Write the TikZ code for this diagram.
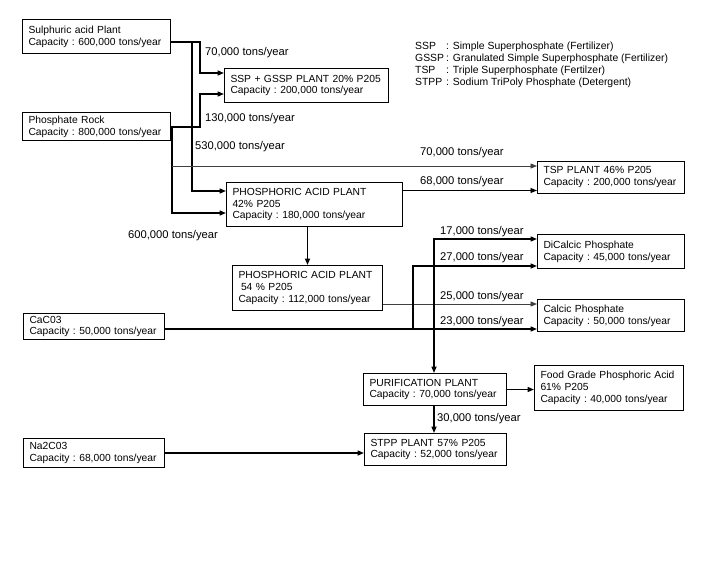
\documentclass[tikz,border=0pt]{standalone}
\usepackage{fontspec}
\setmainfont{Liberation Sans}
\usetikzlibrary{arrows.meta}
\begin{document}
\frenchspacing
\begin{tikzpicture}[x=1pt,y=-1pt,
  plant/.style={draw, line width=1pt, anchor=north west, align=left,
    inner xsep=6pt, inner ysep=0pt, font=\fontsize{10.3}{11.7}\selectfont\frenchspacing},
  lab/.style={anchor=west, inner sep=0pt, font=\fontsize{11.2}{13}\selectfont},
  flow/.style={line width=1.5pt, line join=miter, -{Triangle[length=6.5pt,width=5pt]}},
  thinflow/.style={line width=0.9pt, draw=black!75, -{Triangle[length=6.5pt,width=5pt]}},
  pipe/.style={line width=1.5pt}]
\useasboundingbox (0,0) rectangle (710,570);
\fill[white] (0,0) rectangle (710,570);

% boxes
\node[plant, text width=136pt, minimum height=34pt] (sulph) at (22,19)
  {Sulphuric acid Plant\\Capacity : 600,000 tons/year};
\node[plant, text width=152pt, minimum height=34pt] (ssp) at (224,68)
  {SSP + GSSP PLANT 20\% P205\\Capacity : 200,000 tons/year};
\node[plant, text width=136pt, minimum height=28pt] (rock) at (22,112)
  {Phosphate Rock\\Capacity : 800,000 tons/year};
\node[plant, text width=164pt, minimum height=44pt] (pa42) at (226,182)
  {PHOSPHORIC ACID PLANT\\42\% P205\\Capacity : 180,000 tons/year};
\node[plant, text width=135pt, minimum height=31.5pt] (tsp) at (537,161)
  {TSP PLANT 46\% P205\\Capacity : 200,000 tons/year};
\node[plant, text width=138pt, minimum height=45pt] (pa54) at (232,265)
  {PHOSPHORIC ACID PLANT\\\hspace*{2.5pt}54 \% P205\\Capacity : 112,000 tons/year};
\node[plant, text width=135pt, minimum height=34pt] (dical) at (537,234)
  {DiCalcic Phosphate\\Capacity : 45,000 tons/year};
\node[plant, text width=135pt, minimum height=32pt] (calc) at (537,299)
  {Calcic Phosphate\\Capacity : 50,000 tons/year};
\node[plant, text width=129pt, minimum height=26pt] (caco) at (23,313)
  {CaC03\\Capacity : 50,000 tons/year};
\node[plant, text width=131pt, minimum height=32pt] (purif) at (363,373)
  {PURIFICATION PLANT\\Capacity : 70,000 tons/year};
\node[plant, text width=137pt, minimum height=45pt] (food) at (534,365)
  {Food Grade Phosphoric Acid\\61\% P205\\Capacity : 40,000 tons/year};
\node[plant, text width=130pt, minimum height=32pt] (stpp) at (364,433)
  {STPP PLANT 57\% P205\\Capacity : 52,000 tons/year};
\node[plant, text width=129pt, minimum height=29pt] (na) at (23,438)
  {Na2C03\\Capacity : 68,000 tons/year};

% legend
\node[anchor=west, inner sep=0pt, align=left, font=\fontsize{10.4}{12}\selectfont] (legend) at (415,65)
  {\begin{tabular}{@{}l@{\hspace{2pt}:\hspace{4pt}}l@{}}
   SSP & Simple Superphosphate (Fertilizer)\\
   GSSP & Granulated Simple Superphosphate (Fertilizer)\\
   TSP & Triple Superphosphate (Fertilzer)\\
   STPP & Sodium TriPoly Phosphate (Detergent)
   \end{tabular}};

% connectors
\draw[flow] (sulph.east |- 0,42) -- (200,42) -- (200,73) -- (ssp.west |- 0,73);
\draw[flow] (192,42) -- (192,191) -- (pa42.west |- 0,191);
\draw[flow] (rock.east |- 0,127) -- (200,127) -- (200,94) -- (ssp.west |- 0,94);
\draw[flow] (172,127) -- (172,213) -- (pa42.west |- 0,213);
\draw[thinflow] (172,166) -- (tsp.west |- 0,166);
\draw[thinflow, draw=black] (pa42.east |- 0,190.5) -- (tsp.west |- 0,190.5);
\draw[flow] (pa42.south -| pa54.north) -- (pa54.north);
\draw[thinflow] (pa54.east |- 0,304) -- (calc.west |- 0,304);
\draw[flow] (434,304) -- (434,239) -- (dical.west |- 0,239);
\draw[flow] (434,304) -- (purif.north -| 434,0);
\draw[flow] (caco.east |- 0,329) -- (calc.west |- 0,329);
\draw[flow] (413,329) -- (413,266) -- (dical.west |- 0,266);
\draw[flow] (purif.east) -- (food.west |- purif.east);
\draw[flow] (purif.south -| 434,0) -- (stpp.north -| 434,0);
\draw[flow] (na.east) -- (stpp.west |- na.east);

% labels
\node[lab] (l1) at (205,53) {70,000 tons/year};
\node[lab] (l2) at (205,119) {130,000 tons/year};
\node[lab] (l3) at (195,147) {530,000 tons/year};
\node[lab] (l4) at (420,153) {70,000 tons/year};
\node[lab] (l5) at (420,182) {68,000 tons/year};
\node[lab] (l6) at (128,236) {600,000 tons/year};
\node[lab] (l7) at (440,232) {17,000 tons/year};
\node[lab] (l8) at (440,258) {27,000 tons/year};
\node[lab] (l9) at (440,297) {25,000 tons/year};
\node[lab] (l10) at (440,322) {23,000 tons/year};
\node[lab] (l11) at (437,419) {30,000 tons/year};
\end{tikzpicture}
\end{document}
